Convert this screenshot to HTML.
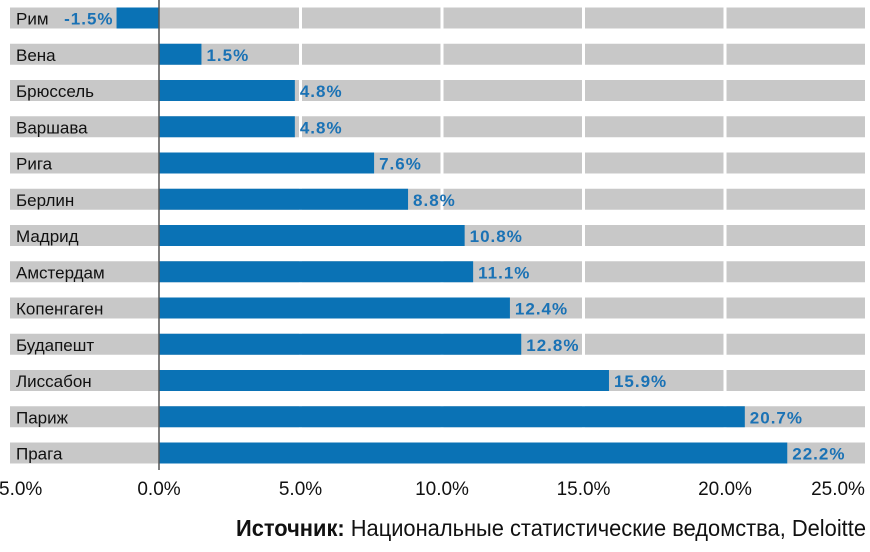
<!DOCTYPE html>
<html><head><meta charset="utf-8"><style>
body{margin:0;background:#fff;width:870px;height:547px;overflow:hidden}
svg text{font-family:"Liberation Sans",sans-serif}
</style></head><body>
<svg id="chart" width="870" height="547" xmlns="http://www.w3.org/2000/svg">
<g id="bands"></g><g id="grid"></g><g id="bars"></g><g id="labels"></g><g id="ticks"></g>
<line x1="159" y1="0" x2="159" y2="470" stroke="#555" stroke-width="1.5"/>
<text x="866" y="536" text-anchor="end" font-size="23" fill="#111" textLength="630" lengthAdjust="spacingAndGlyphs"><tspan font-weight="bold">Источник:</tspan> Национальные статистические ведомства, Deloitte</text>
</svg>
<script>
const cities=["Рим","Вена","Брюссель","Варшава","Рига","Берлин","Мадрид","Амстердам","Копенгаген","Будапешт","Лиссабон","Париж","Прага"];
const values=[-1.5,1.5,4.8,4.8,7.6,8.8,10.8,11.1,12.4,12.8,15.9,20.7,22.2];
const tickValues=[-5,0,5,10,15,20,25];
const tickLabels=["-5.0%","0.0%","5.0%","10.0%","15.0%","20.0%","25.0%"];
const NS="http://www.w3.org/2000/svg";
const x=v=>159+v*28.3;
const y=i=>18+i*36.25;
const H=21;
function mk(tag,attrs,parent){const e=document.createElementNS(NS,tag);for(const k in attrs)e.setAttribute(k,attrs[k]);document.getElementById(parent).appendChild(e);return e;}
cities.forEach((c,i)=>{
  const b=mk('rect',{x:10,y:y(i)-H/2,width:856,height:H,fill:'#c8c8c8'},'bands');
  
  
});
tickValues.slice(2).forEach(v=>{
  const g=mk('rect',{x:x(v)-1.5,y:0,width:3,height:470,fill:'#fff'},'grid');
  
  
});
cities.forEach((c,i)=>{
  const v=values[i];
  const x0=Math.min(x(0),x(v)),w=Math.abs(x(v)-x(0));
  const r=mk('rect',{x:x0,y:y(i)-H/2,width:w,height:H,fill:'#0a72b5'},'bars');
  
  
  const t=mk('text',{x:16,y:y(i)+6.5,'font-size':17,fill:'#111'},'labels');
  
  
  t.textContent=c;
  const lab=v.toFixed(1)+'%';
  const vt=mk('text',{x:v<0?x(v)-3:x(v)+5,y:y(i)+6.5,'font-size':17,'font-weight':'bold',fill:'#1a72b5','text-anchor':v<0?'end':'start','letter-spacing':'1'},'labels');
  
  
  vt.textContent=lab;
});
tickValues.forEach((v,i)=>{
  const t=mk('text',{x:Math.min(x(v),838),y:495,'font-size':19,fill:'#111','text-anchor':'middle'},'ticks');
  
  
  t.textContent=tickLabels[i];
});
</script>
</body></html>
